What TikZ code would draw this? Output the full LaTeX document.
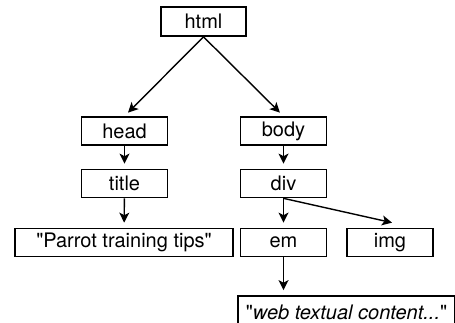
\documentclass[tikz,border=0pt]{standalone}
\usepackage{fontspec}
\setmainfont{TeX Gyre Heros}
\usepackage{tikz}
\usetikzlibrary{arrows.meta,positioning}

\begin{document}
\begin{tikzpicture}[
			x = 1pt, y = -1pt,
			every node/.style = {font=\fontsize{20}{22}\selectfont},
			tag/.style = {draw, line width=1.7pt, minimum width=86pt, minimum height=28pt, inner sep=0pt},
			edge/.style = {-{Stealth[length=10pt,width=10pt,inset=2.5pt]}, line width=1.4pt, shorten >=5pt}
			]

			\clip (0,0) rectangle (455,323);

			\node[tag, minimum width=85pt, minimum height=29pt] (html) at (203.5,21.5) {html};
			\node[tag] (head) at (124.5,131) {head};
			\node[tag] (body) at (283.5,131) {body};
			\node[tag] (title) at (124.5,183.5) {title};
			\node[tag] (div) at (283.5,183.5) {div};
			\node[tag, minimum width=218pt] (text1) at (124,242.5) {\textquotedbl Parrot training tips\textquotedbl};
			\node[tag] (em) at (283.5,242.5) {em};
			\node[tag] (img) at (390,242.5) {img};
			\node[tag, minimum width=217pt, minimum height=32pt] (text2) at (346.5,312) {\textquotedbl\textit{web textual content...}\textquotedbl};

			\draw[edge] (html.south) -- (head.north);
			\draw[edge] (html.south) -- (body.north);
			\draw[edge] (head) -- (title);
			\draw[edge] (title) -- (text1);
			\draw[edge] (body) -- (div);
			\draw[edge] (div) -- (em);
			\draw[edge, shorten >=0pt] (div.south) -- ([xshift=2pt,yshift=5pt]img.north);
			\draw[edge] (em) -- (em |- text2.north);

		\end{tikzpicture}
\end{document}
